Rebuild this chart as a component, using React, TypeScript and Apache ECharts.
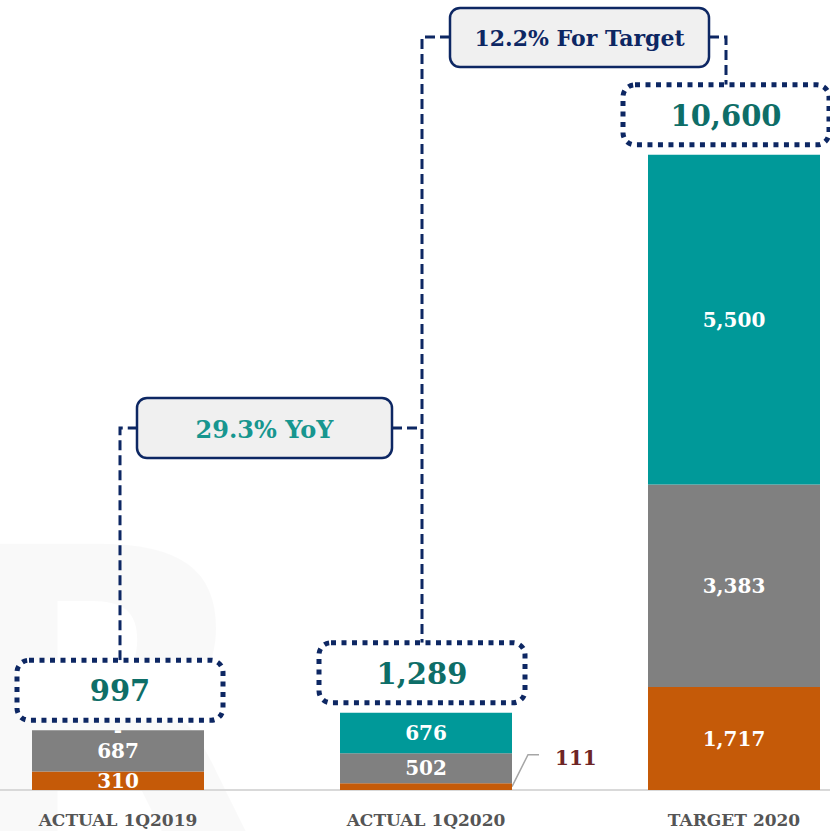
import React, { useEffect, useRef } from "react";
import * as echarts from "echarts";

const categories = ["ACTUAL 1Q2019", "ACTUAL 1Q2020", "TARGET 2020"];
const orangeValues = [310, 111, 1717];
const grayValues = [687, 502, 3383];
const tealValues = [0, 676, 5500];
const totalLabels = ["997", "1,289", "10,600"];
const yoyText = "29.3% YoY";
const targetText = "12.2% For Target";

const SERIF = "'DejaVu Serif', Georgia, serif";
const NAVY = "#0d2763";
const fmt = (v: number) => (v === 0 ? "-" : v.toLocaleString("en-US"));
const OFFSET = 36; // chart canvas extends left of the visible page
const CHART_W = 924;

const WATERMARK =
  "data:image/svg+xml;charset=utf-8," +
  encodeURIComponent(
    "<svg xmlns='http://www.w3.org/2000/svg' width='340' height='360'>" +
      "<text x='0' y='330' font-family='DejaVu Sans' font-weight='bold' font-size='420' fill='rgba(0,0,0,0.022)'>R</text></svg>"
  );

export default function App() {
  const ref = useRef<HTMLDivElement>(null);
  useEffect(() => {
    document.body.style.overflow = "hidden";
    const chart = echarts.init(ref.current!, null, { renderer: "svg" });
    const barLabel = (show: (v: number) => boolean) => ({
      show: true,
      position: "inside" as const,
      color: "#fff",
      fontFamily: SERIF,
      fontWeight: "bold" as const,
      fontSize: 20,
      formatter: (p: any) => (show(p.value) ? fmt(p.value) : ""),
    });
    const barW = 172;
    chart.setOption({
      animation: false,
      backgroundColor: "#fff",
      grid: { left: 0, right: 0, top: 11, bottom: 41 },
      xAxis: {
        type: "category",
        data: categories,
        axisLine: { show: true, lineStyle: { color: "#d9d9d9", width: 2 } },
        axisTick: { show: false },
        axisLabel: {
          color: "#555",
          fontFamily: SERIF,
          fontWeight: "bold",
          fontSize: 17,
          margin: 21,
        },
      },
      yAxis: { type: "value", min: 0, max: 13000, show: false, splitLine: { show: false } },
      series: [
        {
          name: "orange",
          type: "bar",
          stack: "s",
          barWidth: barW,
          data: orangeValues,
          itemStyle: { color: "#c55a08" },
          label: barLabel((v) => v >= 200),
        },
        {
          name: "gray",
          type: "bar",
          stack: "s",
          barWidth: barW,
          data: grayValues,
          itemStyle: { color: "#808080" },
          label: barLabel(() => true),
        },
        {
          name: "teal",
          type: "bar",
          stack: "s",
          barWidth: barW,
          data: tealValues,
          itemStyle: { color: "#009999" },
          label: barLabel(() => true),
        },
      ],
    });

    const totals = categories.map((_, i) => orangeValues[i] + grayValues[i] + tealValues[i]);
    const boxW = 206;
    const boxH = 60;
    const boxDx = [2, -4, -8];
    const boxes = totals.map((t, i) => {
      const [cx, top] = chart.convertToPixel({ gridIndex: 0 }, [i, t]) as number[];
      const left = cx - boxW / 2 + boxDx[i];
      const y = top - 10 - boxH;
      return { left, y, center: left + boxW / 2 };
    });
    const [, base] = chart.convertToPixel({ gridIndex: 0 }, [1, 0]) as number[];
    const [cx1, orangeTop] = chart.convertToPixel({ gridIndex: 0 }, [1, orangeValues[1]]) as number[];
    const barRight = cx1 + barW / 2;
    const smallY = (base + orangeTop) / 2;

    const dashed = { stroke: NAVY, lineWidth: 3, lineDash: [10, 5], fill: null };
    const yoyY = 428;
    const tgtY = 37;
    const c0 = boxes[0].center;
    const c1 = boxes[1].center;
    const c2 = boxes[2].center;
    const yoyL = c0 + 17;
    const yoyR = c1 - 30;
    const tgtL = c1 + 28;
    const tgtR = c2 - 17;

    const graphics: any[] = [
      {
        type: "image",
        x: OFFSET - 60,
        y: 520,
        z: -10,
        silent: true,
        style: { image: WATERMARK, width: 340, height: 360 },
      },
      { type: "polyline", shape: { points: [[c0, boxes[0].y], [c0, yoyY], [yoyL, yoyY]] }, style: dashed },
      { type: "polyline", shape: { points: [[yoyR, yoyY], [c1, yoyY]] }, style: dashed },
      { type: "polyline", shape: { points: [[tgtL, tgtY], [c1, tgtY], [c1, boxes[1].y]] }, style: dashed },
      { type: "polyline", shape: { points: [[tgtR, tgtY], [c2, tgtY], [c2, boxes[2].y]] }, style: dashed },
      {
        type: "rect",
        shape: { x: yoyL, y: yoyY - 30, width: yoyR - yoyL, height: 60, r: 10 },
        style: { fill: "#f0f0f0", stroke: NAVY, lineWidth: 2.5 },
      },
      {
        type: "text",
        x: (yoyL + yoyR) / 2,
        y: yoyY + 1,
        style: {
          text: yoyText,
          font: `bold 24px ${SERIF}`,
          fill: "#17968f",
          align: "center",
          verticalAlign: "middle",
        },
      },
      {
        type: "rect",
        shape: { x: tgtL, y: tgtY - 29, width: tgtR - tgtL, height: 59, r: 10 },
        style: { fill: "#f0f0f0", stroke: NAVY, lineWidth: 2.5 },
      },
      {
        type: "text",
        x: (tgtL + tgtR) / 2,
        y: tgtY + 1,
        style: {
          text: targetText,
          font: `bold 22px ${SERIF}`,
          fill: NAVY,
          align: "center",
          verticalAlign: "middle",
        },
      },
      {
        type: "polyline",
        shape: { points: [[barRight, smallY], [barRight + 16, smallY - 32], [barRight + 27, smallY - 32]] },
        style: { stroke: "#a6a6a6", lineWidth: 1.5, fill: null },
      },
      {
        type: "text",
        x: barRight + 43,
        y: smallY - 29,
        style: {
          text: fmt(orangeValues[1]),
          font: `bold 20px ${SERIF}`,
          fill: "#6e2525",
          align: "left",
          verticalAlign: "middle",
        },
      },
    ];
    boxes.forEach((b, i) => {
      graphics.push({
        type: "rect",
        shape: { x: b.left, y: b.y, width: boxW, height: boxH, r: 12 },
        style: { fill: "#fff", stroke: NAVY, lineWidth: 5, lineDash: [5, 5.5] },
      });
      graphics.push({
        type: "text",
        x: b.center,
        y: b.y + boxH / 2 + 1,
        style: {
          text: totalLabels[i],
          font: `bold 29px ${SERIF}`,
          fill: "#0e6e68",
          align: "center",
          verticalAlign: "middle",
        },
      });
    });
    chart.setOption({ graphic: { elements: graphics } });
    return () => chart.dispose();
  }, []);
  return (
    <div
      ref={ref}
      style={{ position: "fixed", left: -OFFSET, top: 0, width: CHART_W, height: 831 }}
    />
  );
}
